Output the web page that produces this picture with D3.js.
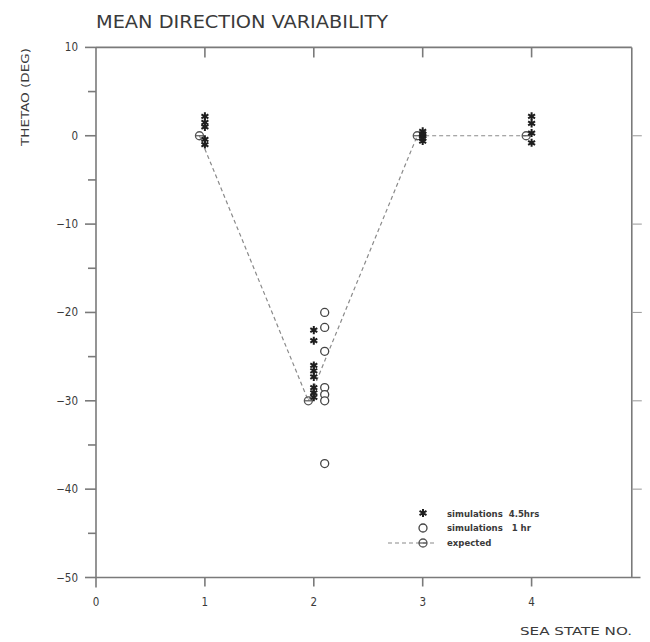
<!DOCTYPE html>
<html>
<head>
<meta charset="utf-8">
<script src="https://cdn.jsdelivr.net/npm/d3@7"></script>
<style>
  body { margin: 0; background: #fff; }
  svg { display: block; }
  text { font-family: "DejaVu Sans Condensed", "DejaVu Sans", sans-serif; fill: #3a3a3a; white-space: pre; }
</style>
</head>
<body>
<svg id="chart" width="650" height="642"></svg>
<script>
// Sea state numbers and measured mean-direction offsets (deg)
const seaStates = [1, 2, 3, 4];
const xTicks = [0, 1, 2, 3, 4];
const yTicks = [10, 0, -10, -20, -30, -40, -50];

// 4.5 hr simulations, one array per sea state
const sim45State1 = [2.2, 1.5, 1.0, -0.4, -1.0];
const sim45State2 = [-22.0, -23.2, -26.0, -26.6, -27.3, -28.5, -29.1, -29.6];
const sim45State3 = [0.5, 0.2, 0.0, -0.3, -0.6];
const sim45State4 = [2.2, 1.4, 0.3, -0.8];

// 1 hr simulations (plotted beside the 4.5 hr column)
const sim1State2 = [-20.0, -21.7, -24.4, -28.5, -29.3, -30.0, -37.1];

// Expected mean direction for each sea state
const expected = [0, -30, 0, 0];

const legendLabels = ["simulations  4.5hrs", "simulations   1 hr", "expected"];

const svg = d3.select("#chart");
const axisColor = "#7a7a7a";

const x = d3.scaleLinear().domain([0, 5]).range([96, 640.5]);
const y = d3.scaleLinear().domain([-50, 10]).range([577.5, 47.4]);

const sim1Offset = 0.1;
const expOffset = -0.05;
const xRight = 4.92;

// Frame: left axis, bottom axis, top and right border
const frame = svg.append("g").attr("stroke", axisColor).attr("stroke-width", 1.6).attr("fill", "none");
frame.append("line").attr("x1", x(0)).attr("x2", x(0)).attr("y1", y(10)).attr("y2", y(-50) + 10);
frame.append("line").attr("x1", x(0)).attr("x2", x(5)).attr("y1", y(-50)).attr("y2", y(-50));
frame.append("line").attr("x1", x(0)).attr("x2", x(xRight)).attr("y1", y(10)).attr("y2", y(10));
frame.append("line").attr("x1", x(xRight)).attr("x2", x(xRight)).attr("y1", y(10)).attr("y2", y(-50));

// Left axis ticks (major every 10, minor every 5)
const leftTicks = d3.range(-50, 10.01, 5);
frame.selectAll(".ytick").data(leftTicks).join("line")
  .attr("x1", d => x(0) - (d % 10 === 0 ? 11 : 8)).attr("x2", x(0))
  .attr("y1", d => y(d)).attr("y2", d => y(d));

// Right border ticks at the major values, outward
frame.selectAll(".rtick").data(yTicks.slice(1, -1)).join("line")
  .attr("stroke-width", 1.1).attr("stroke", "#a0a0a0")
  .attr("x1", x(xRight)).attr("x2", x(xRight) + 10)
  .attr("y1", d => y(d)).attr("y2", d => y(d));

// Bottom ticks (outward) and top ticks (inward)
frame.selectAll(".xtick").data(xTicks.slice(1)).join("line")
  .attr("x1", d => x(d)).attr("x2", d => x(d))
  .attr("y1", y(-50)).attr("y2", y(-50) + 9);
frame.selectAll(".ttick").data(xTicks.slice(1)).join("line")
  .attr("x1", d => x(d)).attr("x2", d => x(d))
  .attr("y1", y(10)).attr("y2", y(10) + 10);

// Tick labels
svg.append("g").selectAll("text").data(yTicks).join("text")
  .attr("x", 78).attr("y", d => y(d) + 4)
  .attr("text-anchor", "end").attr("font-size", 11.5)
  .text(d => d < 0 ? "\u2212" + Math.abs(d) : d);

svg.append("g").selectAll("text").data(xTicks).join("text")
  .attr("x", d => x(d)).attr("y", 606)
  .attr("text-anchor", "middle").attr("font-size", 11.5)
  .text(d => d);

// Titles
svg.append("text").attr("x", 96).attr("y", 28)
  .attr("font-size", 18).attr("textLength", 292).attr("lengthAdjust", "spacingAndGlyphs")
  .attr("fill", "#444").text("MEAN DIRECTION VARIABILITY");

svg.append("text").attr("transform", "translate(29,97) rotate(-90)")
  .attr("text-anchor", "middle").attr("font-size", 10)
  .attr("textLength", 98).attr("lengthAdjust", "spacingAndGlyphs")
  .text("THETAO (DEG)");

svg.append("text").attr("x", 632).attr("y", 635)
  .attr("text-anchor", "end").attr("font-size", 11)
  .attr("textLength", 112).attr("lengthAdjust", "spacingAndGlyphs")
  .text("SEA STATE NO.");

// Expected curve (dashed) through the expected points
const expPts = seaStates.map((s, i) => [s + expOffset, expected[i]]);
svg.append("path")
  .datum(expPts)
  .attr("fill", "none").attr("stroke", "#8a8a8a").attr("stroke-width", 1.2)
  .attr("stroke-dasharray", "4,3")
  .attr("d", d3.line().x(d => x(d[0])).y(d => y(d[1])));

// Marker helpers
const asterisk = d3.symbol().type(d3.symbolAsterisk).size(45);
function drawAsterisk(g, cx, cy) {
  g.append("path").attr("d", asterisk())
    .attr("transform", `translate(${cx},${cy})`)
    .attr("fill", "none").attr("stroke", "#1e1e1e").attr("stroke-width", 2);
}
function drawCircle(g, cx, cy) {
  g.append("circle").attr("cx", cx).attr("cy", cy).attr("r", 4)
    .attr("fill", "#fff").attr("stroke", "#444").attr("stroke-width", 1.3);
}
function drawExpected(g, cx, cy) {
  g.append("circle").attr("cx", cx).attr("cy", cy).attr("r", 4)
    .attr("fill", "none").attr("stroke", "#555").attr("stroke-width", 1.3);
  g.append("line").attr("x1", cx - 4).attr("x2", cx + 4).attr("y1", cy).attr("y2", cy)
    .attr("stroke", "#555").attr("stroke-width", 1.2);
}

const marks = svg.append("g");
const sim45 = [sim45State1, sim45State2, sim45State3, sim45State4];
seaStates.forEach((s, i) => drawExpected(marks, x(s + expOffset), y(expected[i])));
sim1State2.forEach(v => drawCircle(marks, x(2 + sim1Offset), y(v)));
sim45.forEach((vals, i) => vals.forEach(v => drawAsterisk(marks, x(seaStates[i]), y(v))));

// Legend
const lg = svg.append("g");
drawAsterisk(lg, 423, 513);
drawCircle(lg, 423, 528);
lg.append("line").attr("x1", 388).attr("x2", 437).attr("y1", 543).attr("y2", 543)
  .attr("stroke", "#8a8a8a").attr("stroke-width", 1.2).attr("stroke-dasharray", "4,3");
drawExpected(lg, 423, 543);
lg.selectAll("text").data(legendLabels).join("text")
  .attr("x", 447).attr("y", (d, i) => 516.5 + i * 14.7)
  .attr("font-size", 9.5).attr("font-weight", "bold").attr("fill", "#555")
  .text(d => d);
</script>
</body>
</html>
